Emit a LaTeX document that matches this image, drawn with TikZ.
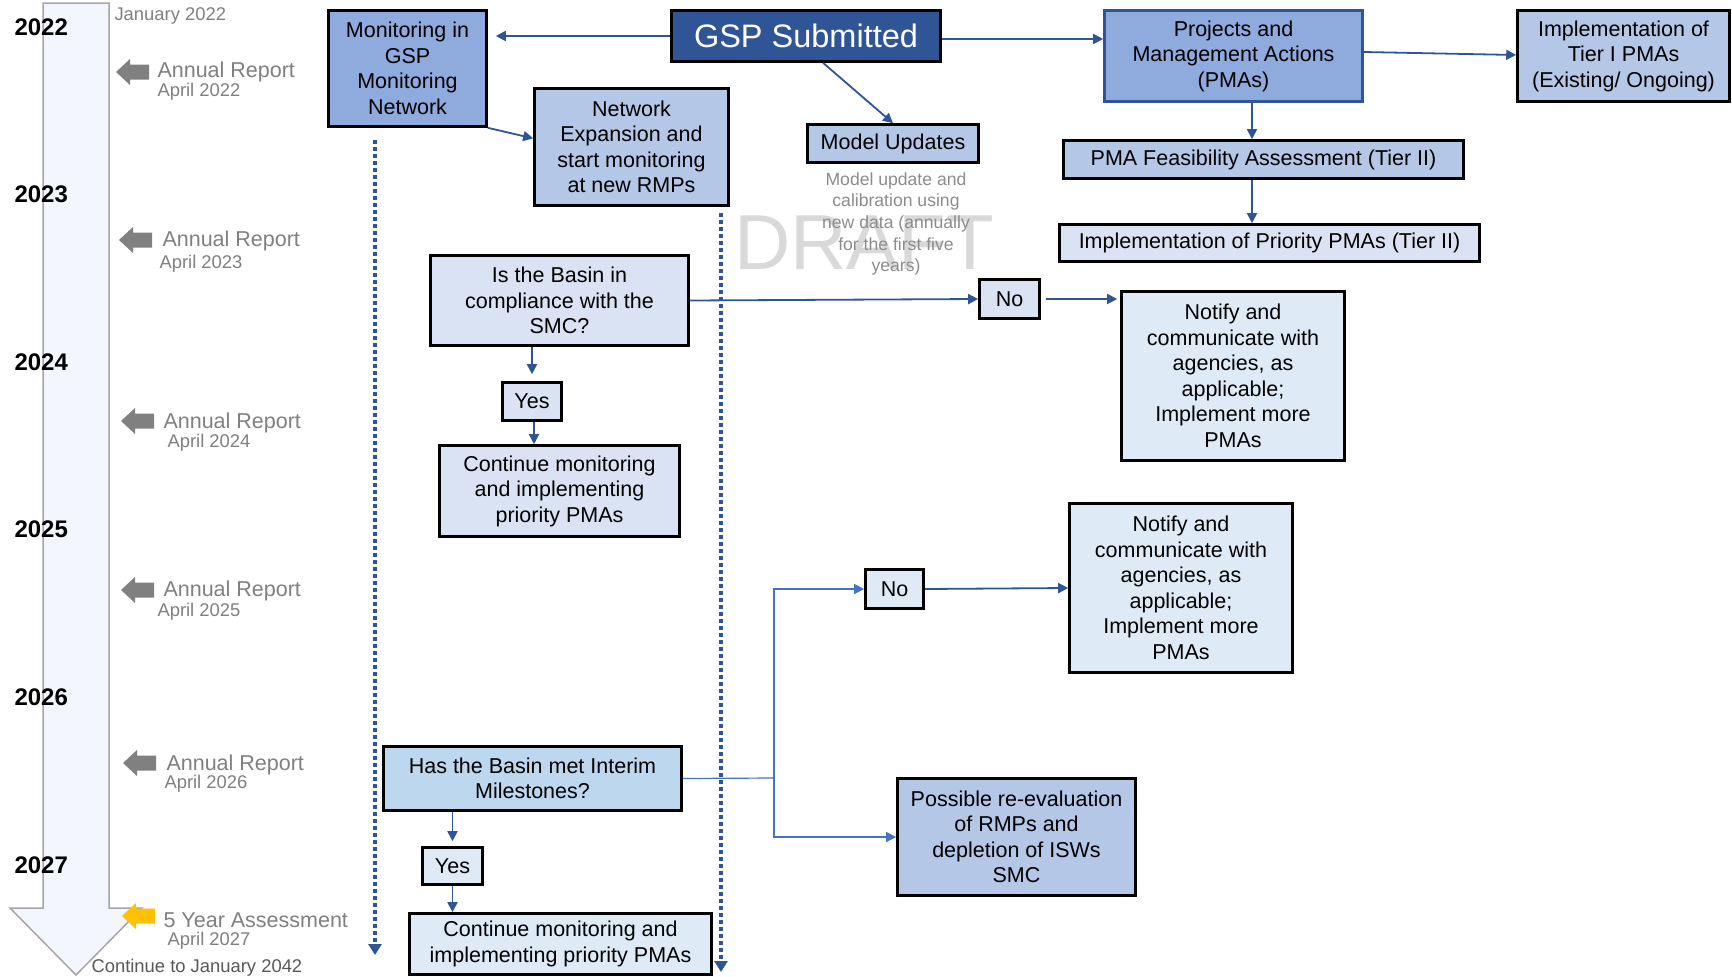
\documentclass[tikz,border=0pt]{standalone}
\usepackage{fontspec}
\setmainfont{Liberation Sans}
\usetikzlibrary{arrows.meta,positioning}

\definecolor{gspblue}{HTML}{2F5597}
\definecolor{lineblue}{HTML}{4472C4}
\definecolor{darkfill}{HTML}{8FAADC}
\definecolor{midfill}{HTML}{B4C7E7}
\definecolor{lightfill}{HTML}{DAE3F3}
\definecolor{palefill}{HTML}{DEEBF7}
\definecolor{skyfill}{HTML}{BDD7EE}
\definecolor{shaftfill}{HTML}{F3F6FC}
\definecolor{reportgrey}{HTML}{808080}
\definecolor{fiveyellow}{HTML}{FFC000}

\begin{document}
\begin{tikzpicture}[
x=1pt, y=-1pt,
box/.style={draw=black, line width=2.6pt, align=center, inner sep=0pt,
  font=\fontsize{21.5}{25.5}\selectfont},
darkbox/.style={box, fill=darkfill},
midbox/.style={box, fill=midfill},
lightbox/.style={box, fill=lightfill},
palebox/.style={box, fill=palefill},
skybox/.style={box, fill=skyfill},
conn/.style={draw=gspblue, line width=1.8pt, -{Triangle[width=10pt,length=10pt]}},
thinconn/.style={draw=lineblue, line width=1.2pt},
tipped/.style={-{Triangle[width=10pt,length=10pt]}},
dotline/.style={draw=gspblue, line width=4pt, dash pattern=on 3.5pt off 3.5pt,
  -{Triangle[width=13pt,length=11pt]}},
yeartext/.style={anchor=base west, font=\fontsize{24}{28}\selectfont\bfseries},
reptext/.style={anchor=base west, text=reportgrey, font=\fontsize{21.5}{24}\selectfont},
datetext/.style={anchor=base west, text=reportgrey, font=\fontsize{18.4}{21}\selectfont}
]
    \useasboundingbox (0,0) rectangle (1732,977);

    % Watermark and model note
    \node[text=black!15, font=\fontsize{78}{80}\selectfont] (draft) at (864,243) {DRAFT};
    \node[text=black!45, align=center, font=\fontsize{17.6}{21.7}\selectfont]
      (modelnote) at (896,224) {Model update and\\calibration using\\new data (annually\\for the first five\\years)};

    % Time line
    \draw[fill=shaftfill, draw=black!35, line width=1.5pt]
      (43,3) -- (109,3) -- (109,908) -- (142,908) -- (76,975) -- (10,908) -- (43,908) -- cycle;
    \foreach \yr [count=\i from 0] in {2022,...,2027}
      \node[yeartext] (year\yr) at (11,35+167.6*\i) {\yr};
    \node[datetext] (start) at (111,20) {January 2022};
    \node[datetext, text=black!65] (finish) at (88,972) {Continue to January 2042};

    % Annual reports
    \foreach \yr/\ay/\ax/\tx/\dx/\tb/\db in {2022/72/116/154/154/77/96,
        2023/240/119/159/156/246/268, 2024/421/121/160/164/428/447,
        2025/590/121/160/154/596/616, 2026/763/123/163/161/770/788}
    {
      \fill[reportgrey] (\ax,\ay) -- ++(14,-13) -- ++(0,5.5) -- ++(19,0) -- ++(0,15)
        -- ++(-19,0) -- ++(0,5.5) -- cycle;
      \node[reptext] (rep\yr) at (\tx,\tb) {Annual Report};
      \node[datetext] (date\yr) at (\dx,\db) {April \yr};
    }
    \fill[fiveyellow] (122,916) -- ++(14,-13) -- ++(0,5.5) -- ++(19,0) -- ++(0,15)
      -- ++(-19,0) -- ++(0,5.5) -- cycle;
    \node[reptext] (rep2027) at (160,927) {5 Year Assessment};
    \node[datetext] (date2027) at (164,945) {April 2027};

    % Dotted monitoring lines
    \coordinate (ltop) at (375,140);
    \coordinate (lbot) at (375,955);
    \coordinate (rtop) at (721,213);
    \coordinate (rbot) at (721,972);
    \draw[dotline] (ltop) -- (lbot);
    \draw[dotline] (rtop) -- (rbot);

    % Boxes
    \node[darkbox, minimum width=158pt, minimum height=116pt] (mon) at (407.5,68.5)
      {Monitoring in\\GSP\\Monitoring\\Network};
    \node[box, fill=gspblue, text=white, minimum width=269pt, minimum height=51pt,
      font=\fontsize{32.5}{36}\selectfont] (gsp) at (806,36) {GSP Submitted};
    \node[darkbox, draw=gspblue, minimum width=258pt, minimum height=91pt] (pma) at (1233.5,56)
      {Projects and\\Management Actions\\(PMAs)};
    \node[midbox, minimum width=212pt, minimum height=91pt] (tier1) at (1623.5,56)
      {Implementation of\\Tier I PMAs\\(Existing/ Ongoing)};
    \node[midbox, minimum width=194pt, minimum height=117pt] (netexp) at (631.5,147)
      {Network\\Expansion and\\start monitoring\\at new RMPs};
    \node[midbox, minimum width=171pt, minimum height=38pt] (model) at (893,143.5) {Model Updates};
    \node[midbox, minimum width=400pt, minimum height=38pt] (feas) at (1263.5,159.5)
      {PMA Feasibility Assessment (Tier II)};
    \node[lightbox, minimum width=420pt, minimum height=37pt] (prio) at (1269.5,243)
      {Implementation of Priority PMAs (Tier II)};
    \node[lightbox, minimum width=258pt, minimum height=90pt] (comp) at (559.5,300.5)
      {Is the Basin in\\compliance with the\\SMC?};
    \node[lightbox, minimum width=59pt, minimum height=38pt] (yes1) at (532,401.5) {Yes};
    \node[lightbox, minimum width=240pt, minimum height=91pt] (cont1) at (559.5,491)
      {Continue monitoring\\and implementing\\priority PMAs};
    \node[lightbox, minimum width=60pt, minimum height=39pt] (no1) at (1009.5,299) {No};
    \node[palebox, minimum width=223pt, minimum height=169pt] (notify1) at (1233,376)
      {Notify and\\communicate with\\agencies, as\\applicable;\\Implement more\\PMAs};
    \node[palebox, minimum width=58pt, minimum height=39pt] (no2) at (894.5,589) {No};
    \node[palebox, minimum width=223pt, minimum height=169pt] (notify2) at (1181,588)
      {Notify and\\communicate with\\agencies, as\\applicable;\\Implement more\\PMAs};
    \node[skybox, minimum width=298pt, minimum height=64pt] (has) at (532.5,778.5)
      {Has the Basin met Interim\\Milestones?};
    \node[palebox, minimum width=60pt, minimum height=37pt] (yes2) at (452.5,866) {Yes};
    \node[palebox, minimum width=302pt, minimum height=61pt] (cont2) at (560.5,944)
      {Continue monitoring and\\implementing priority PMAs};
    \node[midbox, minimum width=238pt, minimum height=117pt] (poss) at (1016.5,837)
      {Possible re-evaluation\\of RMPs and\\depletion of ISWs\\SMC};

    % Connectors
    \coordinate (pmaaxis) at (1252,0);
    \coordinate (split) at (774,778);
    \draw[conn, shorten >=8pt] (gsp.west) -- (gsp.west -| mon.east);
    \draw[conn] ([yshift=-3pt]gsp.east) -- ([yshift=-3pt]gsp.east -| pma.west);
    \draw[conn] ([xshift=17pt]gsp.south) -- (model.north);
    \draw[conn] (mon.south east) -- (netexp.175);
    \draw[conn] ([yshift=4pt]pma.east) -- ([yshift=1pt]tier1.west);
    \draw[conn] (pma.south -| pmaaxis) -- (feas.north -| pmaaxis);
    \draw[conn] (feas.south -| pmaaxis) -- (prio.north -| pmaaxis);
    \draw[conn] (comp.east) -- (no1.west);
    \draw[conn, shorten <=5pt, shorten >=3pt] (no1.east) -- (no1.east -| notify1.west);
    \draw[conn, shorten >=7pt] (yes1.north |- comp.south) -- (yes1.north);
    \draw[conn] ([xshift=2pt]yes1.south) -- ([xshift=2pt]yes1.south |- cont1.north);
    \draw[conn] (no2.east) -- (notify2.west);
    \draw[conn, shorten >=5pt] (yes2.north |- has.south) -- (yes2.north);
    \draw[conn] (yes2.south) -- (yes2.south |- cont2.north);
    \draw[thinconn] (has.east) -- (split);
    \draw[thinconn, tipped] (split) |- (no2.west);
    \draw[thinconn, tipped] (split) |- (poss.west);

\end{tikzpicture}
\end{document}
